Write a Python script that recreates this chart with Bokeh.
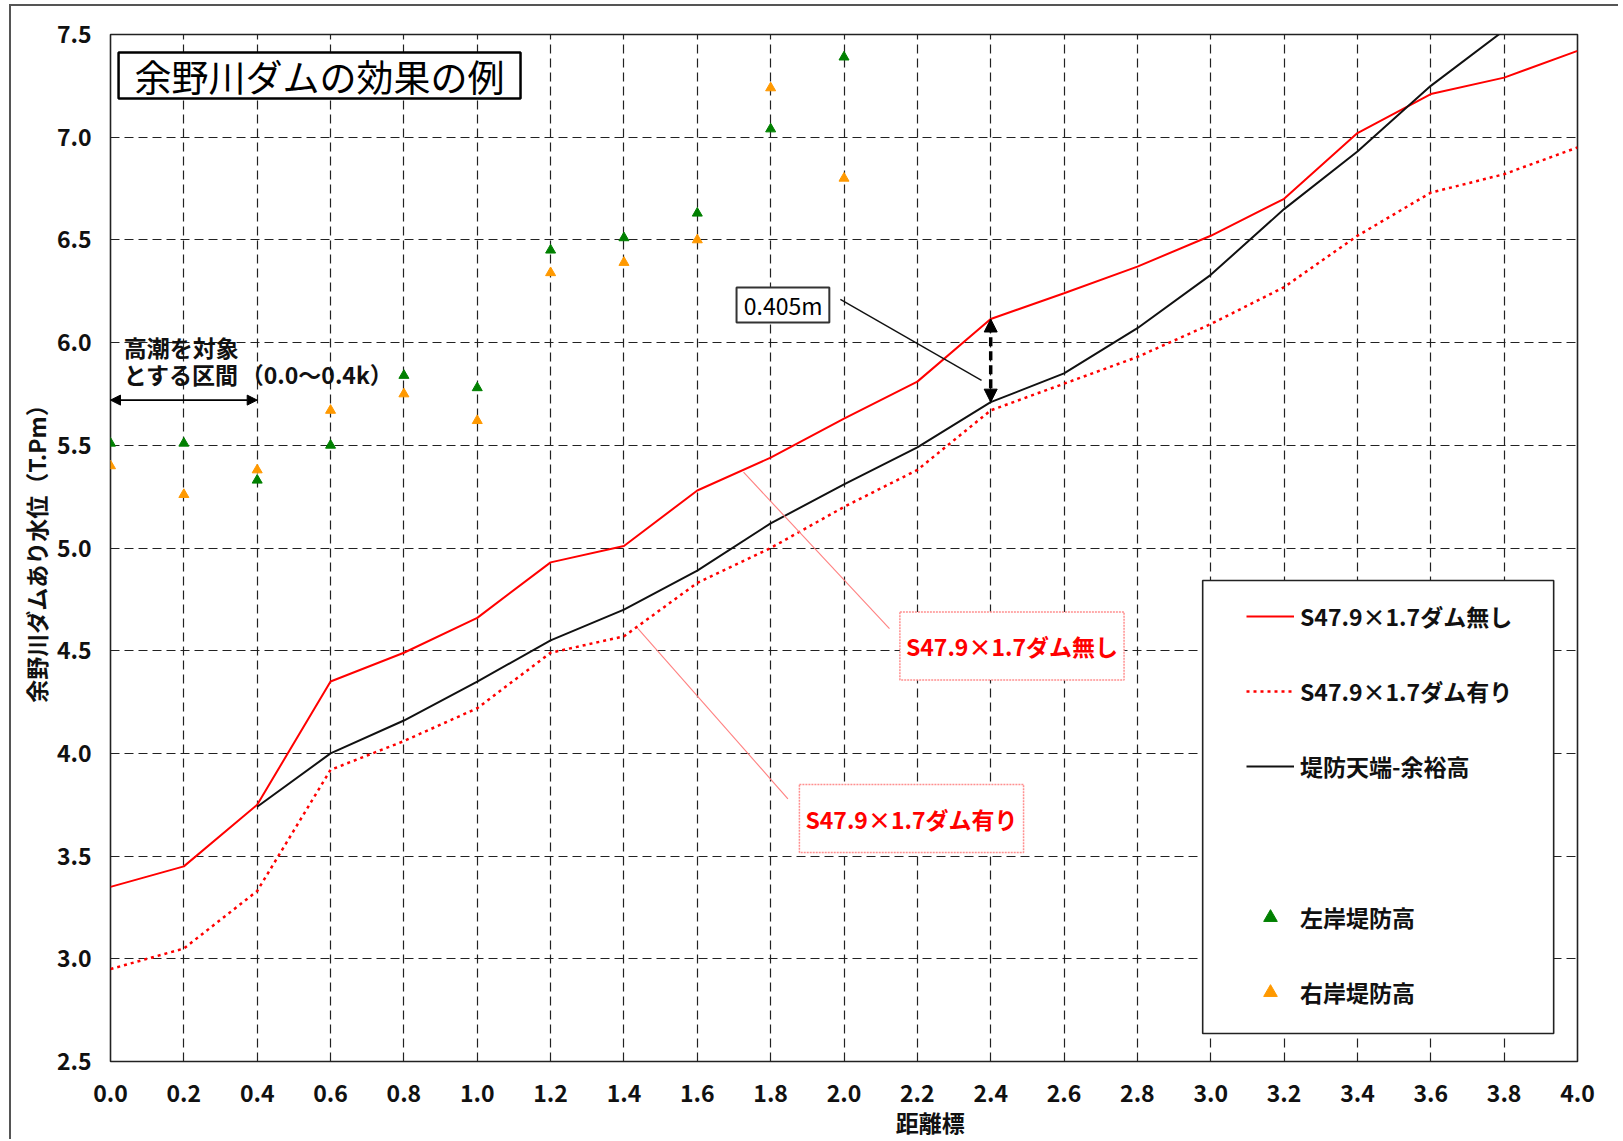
import math
from bokeh.plotting import figure
from bokeh.models import (Range1d, FixedTicker, NumeralTickFormatter, Label, Arrow,
                          NormalHead, BoxAnnotation, Legend, LegendItem)
from bokeh.embed import file_html
from bokeh.resources import INLINE

# ---------------- data ----------------
distance = [0.0, 0.2, 0.4, 0.6, 0.8, 1.0, 1.2, 1.4, 1.6, 1.8, 2.0,
            2.2, 2.4, 2.6, 2.8, 3.0, 3.2, 3.4, 3.6, 3.8, 4.0]
no_dam = [3.35, 3.45, 3.75, 4.35, 4.49, 4.66, 4.93, 5.01, 5.28, 5.44, 5.63,
          5.81, 6.115, 6.24, 6.37, 6.52, 6.70, 7.02, 7.21, 7.29, 7.42]
with_dam = [2.95, 3.05, 3.33, 3.92, 4.06, 4.22, 4.49, 4.57, 4.83, 5.00, 5.20,
            5.38, 5.67, 5.80, 5.93, 6.09, 6.27, 6.52, 6.73, 6.82, 6.95]
crest_x = [0.4, 0.6, 0.8, 1.0, 1.2, 1.4, 1.6, 1.8, 2.0,
           2.2, 2.4, 2.6, 2.8, 3.0, 3.2, 3.4, 3.6, 3.8]
crest = [3.74, 4.00, 4.16, 4.35, 4.55, 4.70, 4.89, 5.12, 5.31,
         5.49, 5.71, 5.85, 6.07, 6.33, 6.65, 6.93, 7.25, 7.52]
bank_x = [0.0, 0.2, 0.4, 0.6, 0.8, 1.0, 1.2, 1.4, 1.6, 1.8, 2.0]
left_bank = [5.51, 5.51, 5.33, 5.50, 5.84, 5.78, 6.45, 6.51, 6.63, 7.04, 7.39]
right_bank = [5.40, 5.26, 5.38, 5.67, 5.75, 5.62, 6.34, 6.39, 6.50, 7.24, 6.80]

x_ticks = [0.0, 0.2, 0.4, 0.6, 0.8, 1.0, 1.2, 1.4, 1.6, 1.8, 2.0,
           2.2, 2.4, 2.6, 2.8, 3.0, 3.2, 3.4, 3.6, 3.8, 4.0]
y_ticks = [2.5, 3.0, 3.5, 4.0, 4.5, 5.0, 5.5, 6.0, 6.5, 7.0, 7.5]

labels = ["S47.9×1.7ダム無し", "S47.9×1.7ダム有り", "堤防天端-余裕高", "左岸堤防高", "右岸堤防高"]
title_text = "余野川ダムの効果の例"
x_title = "距離標"
y_title = "余野川ダムあり水位（T.Pm）"

FONT = "Noto Sans CJK JP"

# ---------------- figure ----------------
p = figure(width=1609, height=1135, output_backend="svg", toolbar_location=None,
           x_range=Range1d(0, 4), y_range=Range1d(2.5, 7.5),
           min_border_left=99, min_border_right=43, min_border_top=28, min_border_bottom=80)
p.margin = (4, 0, 0, 9)
p.styles = {"border-left": "2px solid #555", "border-top": "2px solid #555"}
p.background_fill_color = "white"
p.border_fill_color = "white"
p.outline_line_color = "#222"
p.outline_line_width = 1.6

p.xaxis.ticker = FixedTicker(ticks=x_ticks)
p.yaxis.ticker = FixedTicker(ticks=y_ticks)
p.xgrid.ticker = FixedTicker(ticks=x_ticks)
p.ygrid.ticker = FixedTicker(ticks=y_ticks)
for g in (p.xgrid, p.ygrid):
    g.grid_line_color = "#222"
    g.grid_line_dash = "9 5"
    g.grid_line_width = 1.2
    g.grid_line_alpha = 1.0

for ax in (p.xaxis, p.yaxis):
    ax.formatter = NumeralTickFormatter(format="0.0")
    ax.axis_line_color = None
    ax.major_tick_line_color = None
    ax.minor_tick_line_color = None
    ax.major_label_text_font = FONT
    ax.major_label_text_font_size = "23px"
    ax.major_label_text_font_style = "bold"
    ax.major_label_text_color = "#111"
    ax.axis_label_text_font = FONT
    ax.axis_label_text_font_size = "23px"
    ax.axis_label_text_font_style = "bold"
    ax.axis_label_text_color = "#111"

p.xaxis.major_label_standoff = 17
p.yaxis.major_label_standoff = 13
# the x title sits right of the frame's centre in the original
p.xaxis.axis_label = "\u3000" * 7 + "\u2002" + x_title
p.yaxis.axis_label = y_title
p.xaxis.axis_label_standoff = 0
p.yaxis.axis_label_standoff = 1

# ---------------- series ----------------
r_no = p.line(distance, no_dam, line_color="#FF0000", line_width=2)
r_with = p.line(distance, with_dam, line_color="#FF0000", line_width=2.5, line_dash="3 4")
r_crest = p.line(crest_x, crest, line_color="#111111", line_width=2)
r_left = p.scatter(bank_x, left_bank, marker="triangle", size=10,
                   fill_color="#008000", line_color="#008000")
r_right = p.scatter(bank_x, right_bank, marker="triangle", size=10,
                    fill_color="#FF9900", line_color="#FF9900")

# ---------------- annotations ----------------
box_kw = dict(fill_color="white", fill_alpha=1.0, line_alpha=1.0)

# title box
p.add_layout(BoxAnnotation(left=0.022, right=1.118, top=7.412, bottom=7.188,
                           line_color="black", line_width=2.5, **box_kw))
p.add_layout(Label(x=0.570, y=7.30, text=title_text, text_font=FONT,
                   text_font_size="37px", text_align="center", text_baseline="middle",
                   text_color="black"))

# high-tide section note
note_kw = dict(text_font=FONT, text_font_size="23px", text_font_style="bold",
               text_baseline="middle", text_align="left", text_color="#111")
p.add_layout(Label(x=0.036, y=5.98, text="高潮を対象", **note_kw))
p.add_layout(Label(x=0.036, y=5.848, text="とする区間", **note_kw))
p.add_layout(Label(x=0.355, y=5.848, text="（0.0～0.4k）", **note_kw))
p.add_layout(Arrow(start=NormalHead(size=10, fill_color="black", line_color="black"),
                   end=NormalHead(size=10, fill_color="black", line_color="black"),
                   x_start=distance[0], y_start=5.72, x_end=distance[2], y_end=5.72,
                   line_color="black", line_width=1.8))

# 0.405 m difference
p.add_layout(Arrow(end=None, x_start=1.990, y_start=6.210, x_end=2.375, y_end=5.816,
                   line_color="#111", line_width=1.4))
p.add_layout(Arrow(start=NormalHead(size=13, fill_color="black", line_color="black"),
                   end=NormalHead(size=13, fill_color="black", line_color="black"),
                   x_start=crest_x[10], y_start=crest[10], x_end=distance[12], y_end=no_dam[12],
                   line_color="black", line_width=3.5, line_dash="9 5"))
p.add_layout(BoxAnnotation(left=1.707, right=1.960, top=6.268, bottom=6.098,
                           line_color="#333", line_width=2, **box_kw))
p.add_layout(Label(x=1.834, y=6.183, text="0.405m", text_font=FONT, text_font_size="23px",
                   text_align="center", text_baseline="middle", text_color="black"))

# callouts
p.add_layout(Arrow(end=None, x_start=1.726, y_start=5.369, x_end=2.124, y_end=4.608,
                   line_color="#FF8080", line_width=1.1))
p.add_layout(Arrow(end=None, x_start=1.437, y_start=4.610, x_end=1.847, y_end=3.779,
                   line_color="#FF8080", line_width=1.1))
call_kw = dict(text_font=FONT, text_font_size="23px", text_font_style="bold",
               text_align="center", text_baseline="middle", text_color="#FF0000",
               background_fill_color="white", border_line_color="#FF9090",
               border_line_width=1.5, border_line_dash="2 1", padding=(6, 6, 17, 17))
p.add_layout(Label(x=2.458, y=4.523, text=labels[0], **call_kw))
p.add_layout(Label(x=2.184, y=3.683, text=labels[1], **call_kw))

# legend frame
p.add_layout(BoxAnnotation(left=2.978, right=3.935, top=4.842, bottom=2.636,
                           line_color="#222", line_width=1.6, **box_kw))

leg_kw = dict(padding=0, margin=0, border_line_color=None, background_fill_alpha=0.0,
              glyph_width=48, glyph_height=34, label_height=34, spacing=41,
              label_standoff=6, label_text_font=FONT, label_text_font_size="23px",
              label_text_font_style="bold", label_text_color="#111")
legend1 = Legend(items=[LegendItem(label=labels[0], renderers=[r_no]),
                        LegendItem(label=labels[1], renderers=[r_with]),
                        LegendItem(label=labels[2], renderers=[r_crest])],
                 location=(1136, 278), **leg_kw)
legend2 = Legend(items=[LegendItem(label=labels[3], renderers=[r_left]),
                        LegendItem(label=labels[4], renderers=[r_right])],
                 location=(1136, 52), **leg_kw)
p.add_layout(legend1)
p.add_layout(legend2)

open("out.html", "w").write(file_html(p, INLINE))
